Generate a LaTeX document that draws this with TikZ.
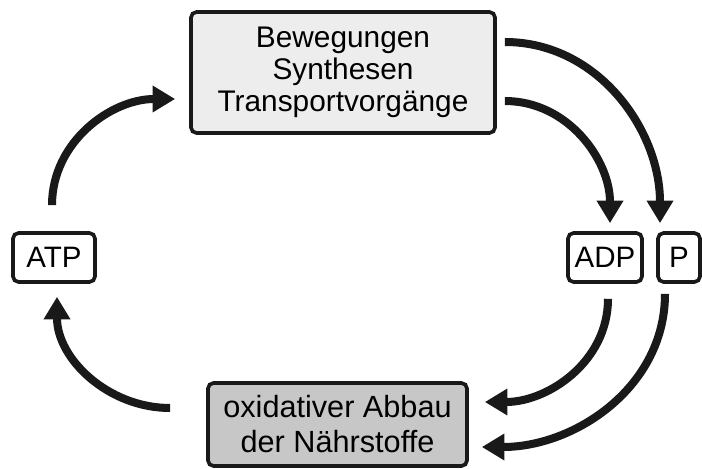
\documentclass[tikz,border=0pt]{standalone}
\usepackage{fontspec}
\setmainfont{Liberation Sans}
\usepackage{xcolor}
\definecolor{workFill}{gray}{0.93}
\definecolor{oxidFill}{gray}{0.78}
\definecolor{inkDark}{gray}{0.10}
\usetikzlibrary{arrows.meta,calc}

\begin{document}
\begin{tikzpicture}[x=0.025cm, y=0.025cm,
    box/.style={draw=inkDark, line width=2.6pt, rounded corners=4pt,
      inner sep=0pt, align=center},
    flow/.style={draw=inkDark, line width=5.7pt,
      -{Triangle[width=18pt,length=16pt]}}]
  \useasboundingbox (0,0) rectangle (702,468);
  % ------- the four boxes -------
  \node[box, fill=workFill, minimum width=7.6cm, minimum height=3.025cm,
    font=\fontsize{21.2pt}{22.8pt}\selectfont] (work) at (343,395.5)
    {Bewegungen\\Synthesen\\Transportvorgänge};
  \node[box, fill=white, minimum width=2.05cm, minimum height=1.225cm,
    font=\fontsize{21pt}{25pt}\selectfont] (atp) at (54,210.5) {ATP};
  \node[box, fill=white, minimum width=1.85cm, minimum height=1.225cm,
    font=\fontsize{21pt}{25pt}\selectfont] (adp) at (605,210.5) {ADP};
  \node[box, fill=white, minimum width=1.05cm, minimum height=1.225cm,
    font=\fontsize{21pt}{25pt}\selectfont] (pho) at (679,210.5) {P};
  \node[box, fill=oxidFill, minimum width=6.475cm, minimum height=2.075cm,
    font=\fontsize{21.8pt}{24.9pt}\selectfont] (oxid) at (337.5,43.5)
    {oxidativer Abbau\\der Nährstoffe};
  % ------- left half of the cycle -------
  \draw[flow] ($(atp.north)+(-2,26)$) to[out=90, in=180]
    ($(work.west)+(-14,-26.5)$);
  \draw[flow] ($(oxid.west)+(-36,16.5)$) to[out=180, in=-90]
    ($(atp.south)+(3,-13)$);
  % ------- right half: splitting into ADP and P -------
  \draw[flow] ($(work.east)+(8,30.5)$) to[out=0, in=90]
    ($(pho.north)+(-19,8)$);
  \draw[flow] ($(work.east)+(8,-28.5)$) to[out=0, in=90]
    ($(adp.north)+(5,8)$);
  \draw[flow] ($(adp.south)+(3,-15)$) to[out=-90, in=0]
    ($(oxid.east)+(16,22.5)$);
  \draw[flow] ($(pho.south)+(-14,-10)$) to[out=-90, in=0]
    ($(oxid.east)+(13,-22.5)$);
\end{tikzpicture}
\end{document}
